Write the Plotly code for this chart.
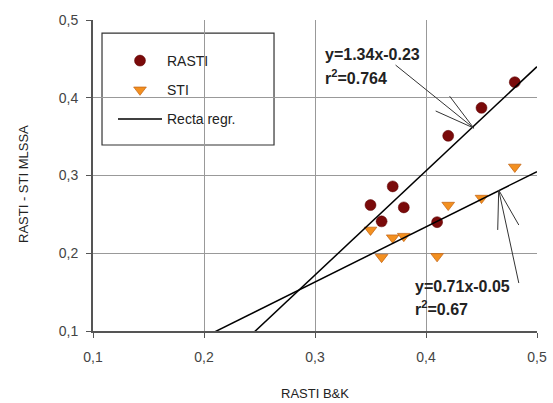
import numpy as np
import plotly.graph_objects as go

# ---- data ----
rasti_bk_x = [0.48, 0.45, 0.42, 0.37, 0.35, 0.38, 0.36, 0.41]
rasti_mlssa = [0.420, 0.387, 0.351, 0.286, 0.262, 0.259, 0.241, 0.240]

sti_bk_x = [0.48, 0.45, 0.42, 0.35, 0.37, 0.38, 0.36, 0.41]
sti_mlssa = [0.311, 0.271, 0.262, 0.230, 0.220, 0.222, 0.195, 0.196]

reg_slopes = [1.34, 0.71]
reg_intercepts = [-0.23, -0.05]
reg_labels = ["y=1.34x-0.23", "y=0.71x-0.05"]
r2_labels = ["r<sup>2</sup>=0.764", "r<sup>2</sup>=0.67"]

tick_vals = [0.1, 0.2, 0.3, 0.4, 0.5]
tick_text = ["0,1", "0,2", "0,3", "0,4", "0,5"]

x_title = "RASTI B&K"
y_title = "RASTI - STI MLSSA"

FONT = "Liberation Sans, Arial, sans-serif"

fig = go.Figure()

fig.add_trace(go.Scatter(
    x=rasti_bk_x, y=rasti_mlssa, mode="markers", name="RASTI",
    legendgroup="a",
    marker=dict(symbol="circle", size=11, color="#7a0a0a",
                line=dict(width=0.5, color="#5a0000")),
))
fig.add_trace(go.Scatter(
    x=sti_bk_x, y=sti_mlssa, mode="markers", name="STI",
    legendgroup="b",
    marker=dict(symbol="triangle-down", size=11, color="#f39020",
                line=dict(width=0.7, color="#c06010")),
))

xs = np.array([tick_vals[0], tick_vals[-1]])
for i, (m, b) in enumerate(zip(reg_slopes, reg_intercepts)):
    fig.add_trace(go.Scatter(
        x=xs, y=m * xs + b, mode="lines", name="Recta regr.",
        legendgroup="c", showlegend=(i == 0),
        line=dict(color="black", width=1.5),
    ))

# regression equation labels
ann_pos = [((0.3072, 0.455), (0.3072, 0.4267)),
           ((0.3883, 0.1566), (0.3883, 0.1296))]
annotations = []
for (p1, p2), t1, t2 in zip(ann_pos, reg_labels, r2_labels):
    for p, t in ((p1, t1), (p2, t2)):
        annotations.append(dict(
            x=p[0], y=p[1], xref="x", yref="y", text="<b>%s</b>" % t,
            showarrow=False, xanchor="left", yanchor="middle",
            font=dict(family=FONT, size=16, color="#222")))

# axis titles
annotations.append(dict(
    x=0.5, y=-(393 - 331) / 311, xref="paper", yref="paper", text=x_title,
    showarrow=False, xanchor="center", yanchor="middle",
    font=dict(family=FONT, size=13, color="#222")))
annotations.append(dict(
    x=-(93 - 23) / 444, y=(331 - 184) / 311, xref="paper", yref="paper",
    text=y_title, textangle=-90,
    showarrow=False, xanchor="center", yanchor="middle",
    font=dict(family=FONT, size=13, color="#222")))

# arrows (pointer lines from labels to regression lines)
arrow_paths = [
    "M 0.3726 0.442 L 0.443 0.361 M 0.4087 0.383 L 0.443 0.361 L 0.4213 0.402",
    "M 0.4836 0.1617 L 0.4655 0.2813 M 0.4646 0.230 L 0.4655 0.2813 L 0.4836 0.2363",
]
shapes = [dict(type="path", xref="x", yref="y", path=p,
               line=dict(color="#333", width=1)) for p in arrow_paths]

# legend box
shapes.append(dict(type="rect", xref="paper", yref="paper",
                   x0=0.0203, x1=0.4077, y0=0.598, y1=0.958,
                   line=dict(color="#333", width=1.2),
                   fillcolor="white", layer="between"))

fig.update_layout(
    width=553, height=403,
    margin=dict(l=93, r=16, t=20, b=72, autoexpand=False),
    paper_bgcolor="white", plot_bgcolor="white",
    font=dict(family=FONT, size=14, color="#444"),
    showlegend=True,
    legend=dict(x=(113 - 93) / 444, y=(331 - 45) / 311, xanchor="left", yanchor="top",
                bgcolor="rgba(0,0,0,0)", borderwidth=0,
                font=dict(family=FONT, size=14, color="#222"),
                itemwidth=44, tracegroupgap=8, traceorder="grouped"),
    annotations=annotations,
    shapes=shapes,
)
axis_common = dict(
    range=[0.1, 0.5], tickmode="array", tickvals=tick_vals, ticktext=tick_text,
    showgrid=True, gridcolor="#999999", gridwidth=1,
    showline=True, linecolor="#555555", linewidth=2,
    ticks="outside", ticklen=5, tickcolor="#555555",
    zeroline=False, automargin=False,
)
fig.update_xaxes(**axis_common, ticklabelstandoff=7)
fig.update_yaxes(**axis_common, ticklabelstandoff=5)

fig.write_html("out.html",
               config={"displayModeBar": False},
               post_script="document.body.style.margin='0';document.body.style.padding='0';")
